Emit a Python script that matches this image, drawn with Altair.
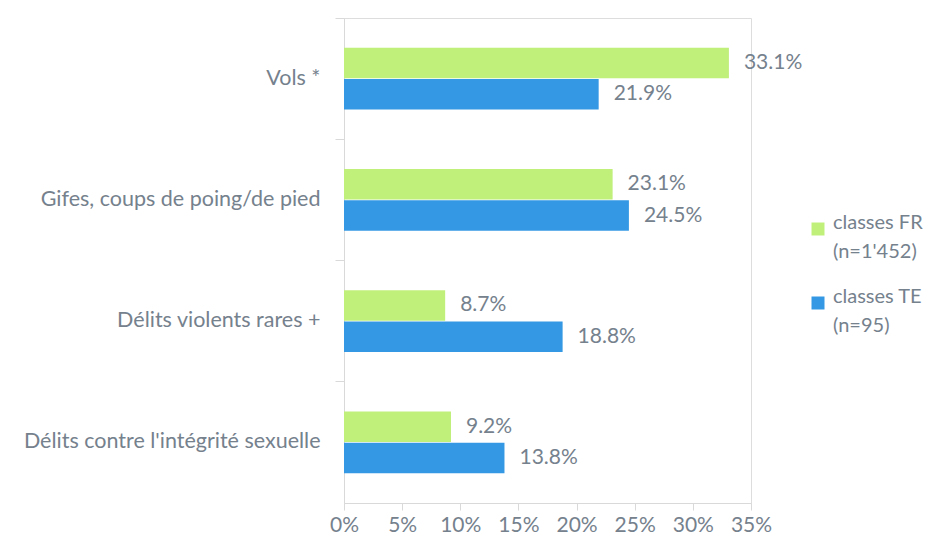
import altair as alt
import pandas as pd

categories = ["Vols *", "Gifes, coups de poing/de pied", "Délits violents rares +",
              "Délits contre l'intégrité sexuelle"]
series = ["classes FR|(n=1'452)", "classes TE|(n=95)"]
fr_values = [33.1, 23.1, 8.7, 9.2]
te_values = [21.9, 24.5, 18.8, 13.8]
x_ticks = [0, 0.05, 0.10, 0.15, 0.20, 0.25, 0.30, 0.35]
colors = ["#c0ef7a", "#3498e4"]

rows = []
for c, f, t in zip(categories, fr_values, te_values):
    rows.append({"cat": c, "series": series[0], "value": f / 100})
    rows.append({"cat": c, "series": series[1], "value": t / 100})
df = pd.DataFrame(rows)

FONT = "Lato"
FS = 21
TXT = "#75818d"
AX = "#d9d9d9"

y_enc = alt.Y("cat:N", sort=categories,
              scale=alt.Scale(paddingInner=0, paddingOuter=0),
              axis=alt.Axis(title=None, bandPosition=0, tickSize=9, labelPadding=15,
                            labelFontSize=21.5, labelColor=TXT, labelFont=FONT,
                            domainColor=AX, tickColor=AX, labelLimit=400))
yoff = alt.YOffset("series:N", sort=series,
                   scale=alt.Scale(paddingInner=0.03, paddingOuter=0.95))
x_enc = alt.X("value:Q", scale=alt.Scale(domain=[0, 0.35]),
              axis=alt.Axis(title=None, values=x_ticks, format=".0%", tickSize=7,
                            labelFontSize=FS, labelColor=TXT, labelFont=FONT,
                            labelOverlap=False, labelFlush=False,
                            domainColor=AX, tickColor=AX, labelPadding=4, grid=False))

base = alt.Chart(df)
bars = base.mark_bar().encode(
    y=y_enc, yOffset=yoff, x=x_enc,
    color=alt.Color("series:N", sort=series,
                    scale=alt.Scale(domain=series, range=colors),
                    legend=alt.Legend(title=None, orient="none", legendX=464, legendY=201,
                                      symbolType="square", symbolSize=169,
                                      symbolStrokeWidth=0,
                                      labelExpr="split(datum.label, '|')",
                                      labelFontSize=20, labelColor=TXT, labelFont=FONT,
                                      labelLimit=300, rowPadding=25, labelOffset=5,
                                      labelBaseline="alphabetic")),
)
labels = base.mark_text(align="left", baseline="middle", dx=15, fontSize=FS,
                        color=TXT, font=FONT).encode(
    y=alt.Y("cat:N", sort=categories), yOffset=yoff, x="value:Q",
    text=alt.Text("value:Q", format=".1%"),
)

chart = (bars + labels).properties(
    width=407, height=485,
    autosize=alt.AutoSizeParams(type="none"),
    padding={"left": 336, "top": 10, "right": 172, "bottom": 33},
).configure_view(stroke=None).configure(
    background="white",
    style={"guide-label": {"lineHeight": 29}},
)

chart.save("out.html", embed_options={"renderer": "svg", "actions": False})
